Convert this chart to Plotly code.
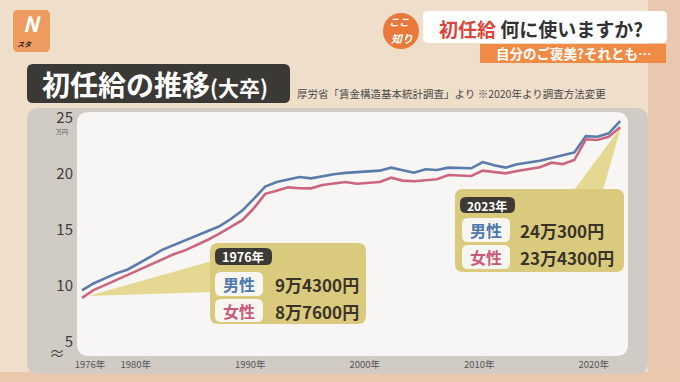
import plotly.graph_objects as go

# ---------------- data ----------------
years = list(range(1976, 2024))
male = [9.43, 10.05, 10.5, 10.95, 11.3, 11.85, 12.45, 13.05, 13.48, 13.9,
        14.3, 14.7, 15.15, 15.8, 16.55, 17.6, 18.7, 19.1, 19.35, 19.55,
        19.43, 19.62, 19.8, 19.92, 19.98, 20.05, 20.12, 20.39, 20.18, 19.94,
        20.24, 20.18, 20.39, 20.36, 20.33, 20.89, 20.6, 20.39, 20.7, 20.85,
        21.0, 21.25, 21.5, 21.75, 23.2, 23.15, 23.45, 24.55]
female = [8.76, 9.45, 9.9, 10.35, 10.8, 11.25, 11.7, 12.15, 12.65, 13.0,
          13.45, 13.95, 14.5, 15.1, 15.7, 16.75, 18.05, 18.33, 18.63, 18.55,
          18.54, 18.84, 18.95, 19.1, 18.95, 19.0, 19.11, 19.49, 19.23, 19.17,
          19.29, 19.35, 19.73, 19.68, 19.64, 20.12, 20.0, 19.88, 20.09, 20.25,
          20.42, 20.83, 20.71, 21.07, 22.92, 22.86, 23.15, 23.99]
x_tickvals = [1976, 1980, 1990, 2000, 2010, 2020]
x_ticktext = ["1976年", "1980年", "1990年", "2000年", "2010年", "2020年"]
y_tickvals = [5, 10, 15, 20, 25]

FONT = "Noto Sans CJK JP"
W, H = 680, 382
L, R, T, B = 77, 628, 112, 356   # plot area in pixels


def pp(px, py):
    return (px - L) / (R - L), (B - py) / (B - T)


def rrect(x0, y0, x1, y1, r):
    def P(x, y):
        a, b = pp(x, y)
        return f"{a:.5f},{b:.5f}"
    d = (f"M {P(x0 + r, y0)} L {P(x1 - r, y0)} Q {P(x1, y0)} {P(x1, y0 + r)} "
         f"L {P(x1, y1 - r)} Q {P(x1, y1)} {P(x1 - r, y1)} "
         f"L {P(x0 + r, y1)} Q {P(x0, y1)} {P(x0, y1 - r)} "
         f"L {P(x0, y0 + r)} Q {P(x0, y0)} {P(x0 + r, y0)} Z")
    return d


def poly(points):
    return "M " + " L ".join("%.5f,%.5f" % pp(x, y) for x, y in points) + " Z"


shapes = []


def add_path(path, color, layer="below"):
    shapes.append(dict(type="path", path=path, xref="paper", yref="paper",
                       fillcolor=color, line=dict(width=0), layer=layer))


def add_circle(cx, cy, r, color):
    a0, b0 = pp(cx - r, cy + r)
    a1, b1 = pp(cx + r, cy - r)
    shapes.append(dict(type="circle", xref="paper", yref="paper", x0=a0, y0=b0,
                       x1=a1, y1=b1, fillcolor=color, line=dict(width=0), layer="below"))


# background bands
add_path(poly([(648, 0), (680, 0), (680, 382), (648, 382)]), "#E9C8AF")
add_path(poly([(0, 372), (680, 372), (680, 382), (0, 382)]), "#EBC7AC")
# grey frame and white plotting panel
add_path(rrect(27, 108, 648, 374, 12), "#D0CBC5")
add_path(rrect(77, 112, 628, 356, 12), "#F7F6F4")
# callout pointers
add_path(poly([(88, 296), (212, 261), (212, 292)]), "rgba(226,210,128,0.85)")
add_path(poly([(621, 127), (574, 190), (603, 190)]), "rgba(226,210,128,0.85)")
# callout boxes
add_path(rrect(210, 243, 366, 324, 8), "#DACA7E")
add_path(rrect(455, 189, 624, 272, 8), "#DACA7E")
add_path(rrect(215, 248, 272, 265, 6), "#3D3A35")
add_path(rrect(215, 272, 263, 296, 6), "#F8F6F0")
add_path(rrect(215, 299, 263, 322, 6), "#F8F6F0")
add_path(rrect(460, 197, 515, 213, 6), "#3D3A35")
add_path(rrect(462, 218, 510, 242, 6), "#F8F6F0")
add_path(rrect(462, 245, 510, 269, 6), "#F8F6F0")
# header elements
add_path(rrect(27, 64, 290, 103, 6), "#3B3936")
add_path(rrect(13, 10, 50, 52, 5), "#EE9B5F")
add_path(rrect(423, 11, 667, 43, 5), "#FFFFFF")
add_path(poly([(480, 44), (666, 44), (666, 63), (480, 63)]), "#EF8B45")
add_circle(401, 31, 18, "#E9793A")

annotations = []


def txt(px, py, text, size, color, xanchor="center", bold=False, italic=False):
    a, b = pp(px, py)
    t = f"<b>{text}</b>" if bold else text
    if italic:
        t = f"<i>{t}</i>"
    annotations.append(dict(x=a, y=b, xref="paper", yref="paper", text=t,
                            showarrow=False, xanchor=xanchor, yanchor="middle",
                            font=dict(family=FONT, size=size, color=color)))


# header texts
txt(40, 84, "初任給の推移<span style='font-size:21px'>(大卒)</span>", 28, "#FFFFFF", "left", bold=True)
txt(295, 93, "厚労省「賃金構造基本統計調査」より ※2020年より調査方法変更", 10.5, "#4A4A4A", "left")
txt(437, 28, "<span style='color:#D8473B'>初任給</span> 何に使いますか?", 19, "#333333", "left", bold=True)
txt(573, 53, "自分のご褒美?それとも…", 13.5, "#FFFFFF", bold=True)
txt(399, 22, "ここ", 10, "#FFFFFF", bold=True, italic=True)
txt(402, 38, "知り", 11, "#FFFFFF", bold=True, italic=True)
txt(32, 23, "N", 21, "#FFFFFF", bold=True, italic=True)
txt(24, 44, "スタ", 7, "#222222", bold=True, italic=True)
# axis extras
txt(62, 131, "万円", 6, "#555555")
txt(57, 352, "≈", 16, "#444444")
# callout texts
txt(243, 256.5, "1976年", 12.5, "#FFFFFF", bold=True)
txt(239, 284, "男性", 16, "#4F78AE", bold=True)
txt(239, 311, "女性", 16, "#C95A7A", bold=True)
txt(273, 284, "9万4300円", 17, "#3A3328", "left", bold=True)
txt(273, 311, "8万7600円", 17, "#3A3328", "left", bold=True)
txt(487.5, 205, "2023年", 12, "#FFFFFF", bold=True)
txt(486, 230, "男性", 16, "#4F78AE", bold=True)
txt(486, 257, "女性", 16, "#C95A7A", bold=True)
txt(518, 230, "24万300円", 17, "#3A3328", "left", bold=True)
txt(518, 257, "23万4300円", 17, "#3A3328", "left", bold=True)

fig = go.Figure()
fig.add_trace(go.Scatter(x=years, y=male, mode="lines", name="男性",
                         line=dict(color="#5B7BAA", width=2.6), hoverinfo="skip"))
fig.add_trace(go.Scatter(x=years, y=female, mode="lines", name="女性",
                         line=dict(color="#CC6680", width=2.6), hoverinfo="skip"))

px_per_year = 11.45
x0 = 1976 + (L - 82) / px_per_year
x1 = 1976 + (R - 82) / px_per_year
y_top = 20 - (T - 172) / 11.2
y_bot = 20 - (B - 172) / 11.2

fig.update_layout(
    width=W, height=H,
    margin=dict(l=L, r=W - R, t=T, b=H - B, pad=0),
    paper_bgcolor="#EFDEC9", plot_bgcolor="rgba(0,0,0,0)",
    showlegend=False,
    shapes=shapes, annotations=annotations,
    font=dict(family=FONT),
    xaxis=dict(range=[x0, x1], showgrid=False, zeroline=False, showline=False,
               tickmode="array", tickvals=x_tickvals, ticktext=x_ticktext,
               tickfont=dict(family=FONT, size=9.5, color="#555555"),
               ticks="", ticklabelshift=8, ticklabelstandoff=1, fixedrange=True),
    yaxis=dict(range=[y_bot, y_top], showgrid=False, zeroline=False, showline=False,
               tickmode="array", tickvals=y_tickvals,
               tickfont=dict(family=FONT, size=15, color="#3E3E3E"),
               ticks="", ticklabelstandoff=3, ticklabelshift=2, fixedrange=True),
)

fig.write_html("out.html", config={"displayModeBar": False},
               post_script="document.body.style.margin='0px';document.body.style.overflow='hidden';")
